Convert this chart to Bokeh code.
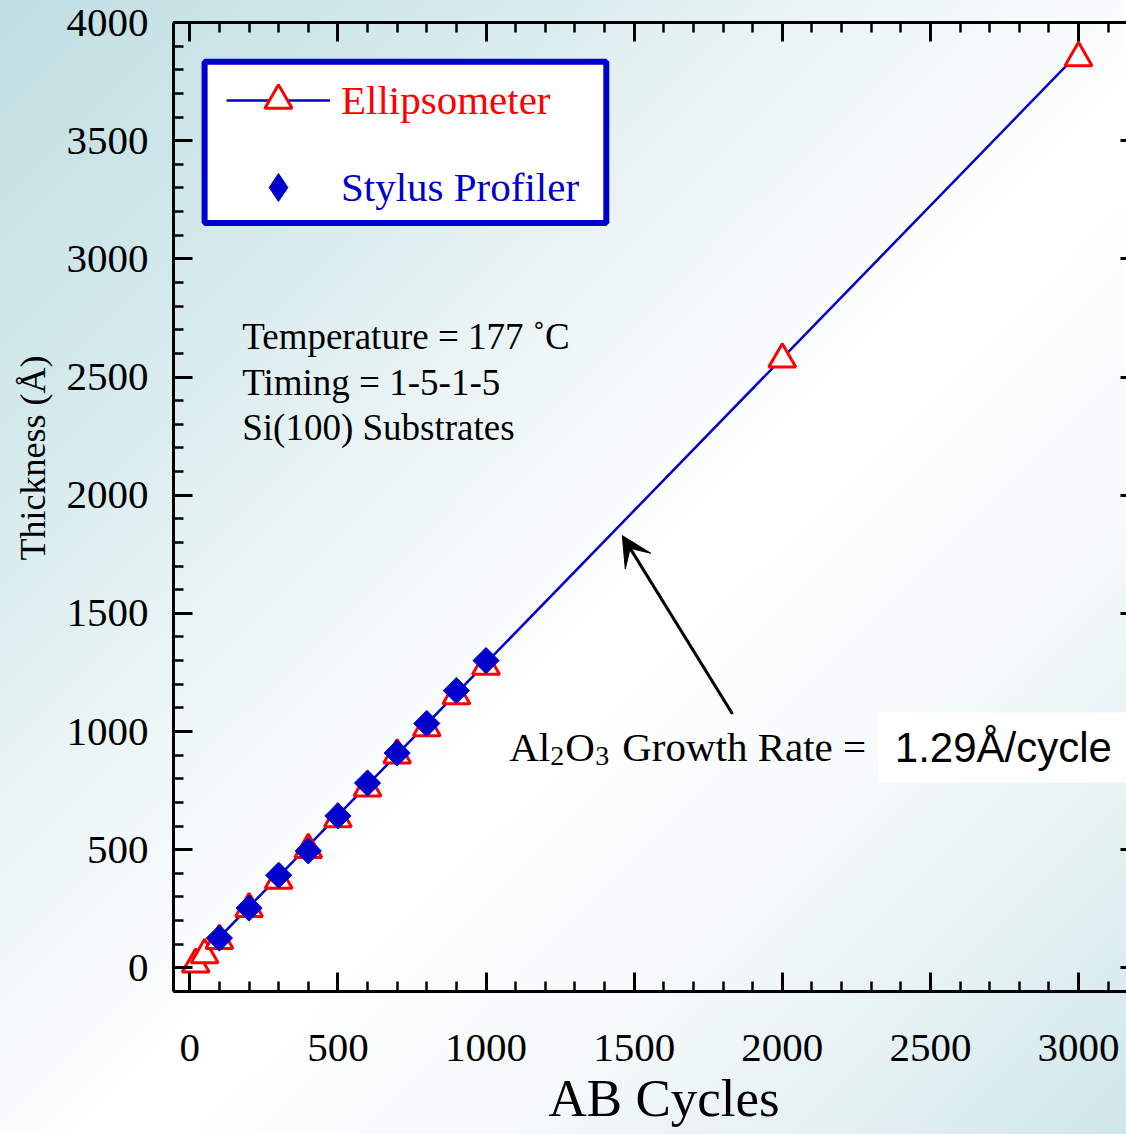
import numpy as np
from bokeh.plotting import figure
from bokeh.models import (Range1d, LinearAxis, SingleIntervalTicker, Legend, LegendItem,
                          Label, BoxAnnotation, Arrow, VeeHead, CustomJSTickFormatter, Title)
from bokeh.embed import file_html
from bokeh.resources import INLINE

# ---------------- data ----------------
ellips_cycles = [20, 50, 100, 200, 300, 400, 500, 600, 700, 800, 900, 1000, 2000, 3000]
ellips_thickness = [15, 55, 115, 250, 370, 500, 630, 760, 900, 1015, 1150, 1275, 2575, 3850]
stylus_cycles = [100, 200, 300, 400, 500, 600, 700, 800, 900, 1000]
stylus_thickness = [126, 253, 392, 495, 643, 782, 909, 1034, 1173, 1300]
growth_rate = 1.29  # Angstrom per cycle (linear fit shown in chart)
x_tick_step = 500
y_tick_step = 500
info_lines = ["Temperature = 177 \u02daC", "Timing = 1-5-1-5", "Si(100) Substrates"]

fit_x = np.array(ellips_cycles, dtype=float)
fit_y = growth_rate * fit_x

BLUE = "#0000cc"
RED = "#ff0000"
SERIF = "Liberation Serif"
SANS = "Liberation Sans"

p = figure(width=1126, height=1134, output_backend="svg", toolbar_location=None,
           x_range=Range1d(-55, 3162), y_range=Range1d(-100, 4000),
           x_axis_type=None, y_axis_type=None,
           min_border_left=173, min_border_top=22, min_border_bottom=143, min_border_right=0)
p.background_fill_alpha = 0
p.border_fill_alpha = 0
p.outline_line_color = None
p.styles = {
    "background": "linear-gradient(135deg, #bfdee2 0%, #d4e9ec 20%, #ecf5f6 38%, #ffffff 55%, "
                  "#f6fafb 72%, #e2f0f2 88%, #cfe6e9 100%)",
}

blank = CustomJSTickFormatter(code="return ''")


def style_axis(ax, interval, show_labels, tick_in=19, minor_in=10):
    ax.ticker = SingleIntervalTicker(interval=interval, num_minor_ticks=5)
    ax.major_tick_in = tick_in
    ax.major_tick_out = 0
    ax.minor_tick_in = minor_in
    ax.minor_tick_out = 0
    ax.major_tick_line_width = 3
    ax.minor_tick_line_width = 2.5
    ax.major_tick_line_color = "black"
    ax.minor_tick_line_color = "black"
    ax.axis_line_width = 3
    ax.axis_line_color = "black"
    ax.major_label_text_font = SERIF
    ax.major_label_text_color = "black"
    if show_labels:
        ax.major_label_text_font_size = "41px"
    else:
        ax.formatter = blank
        ax.major_label_text_font_size = "1px"
        ax.major_label_standoff = 0


xb = LinearAxis()
style_axis(xb, x_tick_step, True)
xb.major_label_standoff = 43
p.add_layout(xb, "below")

yl = LinearAxis()
style_axis(yl, y_tick_step, True)
yl.major_label_standoff = 25
p.add_layout(yl, "left")

xt = LinearAxis()
style_axis(xt, x_tick_step, False)
p.add_layout(xt, "above")

yr = LinearAxis()
style_axis(yr, y_tick_step, False, tick_in=6, minor_in=0)
yr.axis_line_color = None
p.add_layout(yr, "right")

# axis titles
p.add_layout(Title(text="AB Cycles", align="left", offset=375, vertical_align="top",
                   standoff=10, text_font=SERIF, text_font_size="53px",
                   text_font_style="normal", text_color="black"), "below")
p.add_layout(Title(text="Thickness (\u00c5)", align="right", offset=333, vertical_align="middle",
                   standoff=20, text_font=SERIF, text_font_size="36px",
                   text_font_style="normal", text_color="black"), "left")

# legend frame (drawn before legends)
legend_box = BoxAnnotation(left=50, right=1406, top=3834, bottom=3152,
                           fill_color="white", fill_alpha=1,
                           line_color=BLUE, line_alpha=1, line_width=6)
p.add_layout(legend_box)

# white box behind the rate value
rate_box = BoxAnnotation(left=2323, top=1080, bottom=783,
                         fill_color="white", fill_alpha=1, line_color=None)
p.add_layout(rate_box)

# data
fit_line = p.line(fit_x, fit_y, line_color=BLUE, line_width=2.5)
tri = p.scatter(ellips_cycles, ellips_thickness, marker="triangle", size=27,
                line_color=RED, line_width=3, fill_color="white")
dia = p.scatter(stylus_cycles, stylus_thickness, marker="square", angle=np.pi / 4,
                size=18.5, line_color=BLUE, fill_color=BLUE, line_width=1)
# same series drawn as a diamond marker, used only for the legend swatch
dia_key = p.scatter(stylus_cycles, stylus_thickness, marker="diamond", size=28,
                    line_color=BLUE, fill_color=BLUE, visible=False)

leg1 = Legend(items=[LegendItem(label="Ellipsometer", renderers=[fit_line, tri])],
              location=(53, 857), glyph_width=104, glyph_height=68,
              label_standoff=11, padding=0, margin=0, spacing=0,
              border_line_color=None, background_fill_alpha=0,
              label_text_font=SERIF, label_text_font_size="41px", label_text_color=RED)
leg2 = Legend(items=[LegendItem(label="Stylus Profiler", renderers=[dia_key])],
              location=(53, 769), glyph_width=104, glyph_height=70,
              label_standoff=11, padding=0, margin=0, spacing=0,
              border_line_color=None, background_fill_alpha=0,
              label_text_font=SERIF, label_text_font_size="41px", label_text_color=BLUE)
p.add_layout(leg1)
p.add_layout(leg2)

# info text
for txt, yy in zip(info_lines, [2670, 2477, 2286]):
    p.add_layout(Label(x=177, y=yy, text=txt, text_font=SERIF, text_font_size="37px",
                       text_color="black", text_align="left", text_baseline="alphabetic"))

# growth rate annotation: Al2O3 Growth Rate = 1.29Å/cycle
gx, gy = 1078, 933
parts = [("Al", 0, 0, "41px"), ("2", 41, -9, "28px"), ("O", 56, 0, "41px"),
         ("3", 86, -9, "28px"), ("Growth Rate =", 113, 0, "41px")]
for txt, dx, dy, fs in parts:
    p.add_layout(Label(x=gx, y=gy, x_offset=dx, y_offset=dy, text=txt, text_font=SERIF,
                       text_font_size=fs, text_color="black", text_align="left",
                       text_baseline="alphabetic"))
p.add_layout(Label(x=2380, y=gy, text="%.2f\u00c5/cycle" % growth_rate, text_font=SANS,
                   text_font_size="42px", text_color="black", text_align="left",
                   text_baseline="alphabetic"))

p.add_layout(Arrow(x_start=1832, y_start=1074, x_end=1460, y_end=1829,
                   line_color="black", line_width=3,
                   end=VeeHead(size=30, fill_color="black", line_color="black", line_width=1)))

open("out.html", "w").write(file_html(p, INLINE))
